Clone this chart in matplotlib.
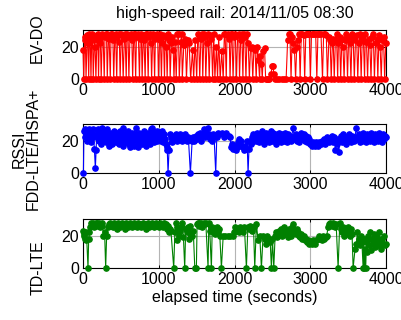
import numpy as np
import matplotlib.pyplot as plt

plt.rcParams['font.family'] = ['Liberation Sans', 'DejaVu Sans']

# EV-DO RSSI samples (time in s, value)
evdo_t = [0, 10, 20, 30, 40, 55, 65, 75, 85, 95, 105, 115, 125, 135, 150, 160, 170, 185, 195, 205,
          215, 230, 240, 255, 265, 280, 290, 300, 310, 320, 335, 345, 360, 370, 385, 395, 405, 420,
          430, 445, 455, 470, 480, 490, 505, 515, 530, 545, 555, 570, 580, 595, 605, 620, 630, 645,
          655, 670, 680, 695, 705, 720, 730, 745, 755, 770, 780, 795, 805, 820, 830, 845, 860, 870,
          885, 895, 905, 920, 930, 945, 955, 970, 985, 995, 1010, 1020, 1035, 1045, 1060, 1075, 1085,
          1100, 1110, 1125, 1140, 1150, 1165, 1180, 1190, 1200, 1215, 1230, 1245, 1260, 1270, 1290,
          1300, 1310, 1330, 1350, 1365, 1385, 1400, 1420, 1445, 1460, 1480, 1500, 1515, 1525, 1540,
          1555, 1570, 1580, 1595, 1610, 1620, 1635, 1650, 1665, 1680, 1695, 1710, 1725, 1740, 1760,
          1775, 1790, 1810, 1830, 1850, 1865, 1875, 1890, 1900, 1915, 1930, 1940, 1955, 1965, 1980,
          1995, 2010, 2025, 2040, 2055, 2065, 2080, 2095, 2110, 2120, 2135, 2150, 2165, 2180, 2195,
          2210, 2225, 2240, 2255, 2270, 2285, 2300, 2315, 2330, 2340, 2355, 2365, 2380, 2395, 2410,
          2425, 2440, 2460, 2480, 2495, 2505, 2520, 2535, 2560, 2590, 2620, 2650, 2680, 2700, 2715,
          2730, 2745, 2760, 2775, 2790, 2805, 2820, 2835, 2850, 2865, 2880, 2895, 2910, 2925, 2940,
          2955, 2970, 2985, 3000, 3015, 3030, 3050, 3070, 3085, 3100, 3120, 3140, 3160, 3175, 3190,
          3210, 3225, 3245, 3260, 3275, 3290, 3300, 3315, 3330, 3345, 3360, 3370, 3385, 3400, 3415,
          3430, 3445, 3460, 3475, 3490, 3505, 3520, 3535, 3550, 3565, 3580, 3595, 3610, 3625, 3640,
          3655, 3670, 3685, 3700, 3715, 3725, 3740, 3755, 3770, 3785, 3800, 3815, 3830, 3845, 3860,
          3875, 3890, 3905, 3920, 3935, 3950, 3965, 3980, 3995]
evdo_v = [18, 0, 24, 26, 0, 27, 22, 0, 28, 25, 0, 26, 28, 0, 24, 20, 0, 27, 28, 0,
          25, 22, 0, 28, 27, 0, 26, 28, 28, 0, 27, 25, 0, 28, 28, 24, 0, 27,
          28, 0, 26, 28, 23, 0, 28, 27, 0, 25, 28, 0, 28, 26, 0, 27, 28, 24,
          0, 28, 28, 0, 26, 28, 27, 0, 25, 28, 0, 27, 24, 0, 28, 28, 0, 26,
          28, 22, 0, 27, 28, 0, 25, 28, 26, 0, 24, 28, 0, 22, 27, 0, 26,
          20, 0, 28, 24, 0, 22, 26, 18, 0, 23, 0, 28, 28, 0, 23,
          28, 0, 21, 25, 0, 24, 22, 0, 18, 0, 24, 0, 28, 27, 0,
          25, 28, 0, 28, 26, 0, 22, 28, 0, 27, 25, 0, 28, 0, 20,
          0, 26, 0, 17, 0, 28, 28, 0, 27, 28, 25, 0, 28, 28, 0,
          26, 28, 0, 27, 28, 0, 24, 28, 0, 28, 26, 0, 28, 22, 0,
          19, 20, 0, 19, 18, 0, 20, 12, 0, 14, 9, 0, 17, 19, 0,
          0, 0, 0, 3, 8, 8, 3, 0, 0, 0, 0, 0, 0, 24, 28,
          28, 0, 26, 22, 18, 0, 20, 24, 28, 0, 28, 28, 27, 0, 28,
          28, 28, 28, 0, 28, 28, 28, 28, 0, 28, 28, 28, 0, 28, 28,
          27, 0, 26, 24, 0, 22, 25, 0, 24, 28, 0, 22, 26, 0, 25,
          20, 0, 24, 28, 0, 26, 22, 0, 28, 25, 0, 24, 27, 0, 22,
          28, 0, 26, 24, 0, 28, 23, 0, 25, 21, 0, 26, 28, 0, 22,
          25, 0, 27, 20, 0, 24, 26, 0, 22]

# FDD-LTE/HSPA+ RSSI samples
fdd_t = [5, 12, 20, 30, 40, 50, 60, 70, 80, 90, 100, 110, 120, 130, 140, 150, 163, 172, 182, 192,
         202, 212, 222, 232, 242, 252, 262, 272, 282, 292, 302, 312, 322, 332, 342, 352, 362, 372,
         382, 392, 402, 412, 422, 432, 442, 452, 462, 472, 482, 492, 502, 512, 522, 532, 542, 552,
         562, 572, 582, 592, 602, 612, 622, 632, 642, 652, 662, 672, 682, 692, 702, 712, 722, 732,
         742, 752, 762, 772, 782, 792, 802, 812, 822, 832, 842, 852, 862, 872, 882, 892, 902, 912,
         922, 932, 942, 952, 962, 972, 982, 992, 1002, 1012, 1022, 1032, 1042, 1052, 1062, 1072,
         1082, 1092, 1102, 1112, 1122, 1135, 1150, 1165, 1180, 1195, 1210, 1225, 1240, 1255, 1270,
         1285, 1300, 1315, 1330, 1345, 1360, 1375, 1390, 1417, 1440, 1455, 1470, 1485, 1500, 1515,
         1530, 1545, 1560, 1575, 1590, 1605, 1620, 1635, 1650, 1665, 1680, 1700, 1715, 1730, 1751,
         1765, 1780, 1795, 1830, 1860, 1890, 1920, 1940, 1955, 1970, 1985, 2000, 2015, 2030, 2045,
         2060, 2075, 2090, 2105, 2120, 2135, 2150, 2165, 2178, 2190, 2200, 2212, 2224, 2236, 2248,
         2260, 2272, 2284, 2296, 2308, 2320, 2332, 2344, 2356, 2368, 2380, 2392, 2404, 2416, 2428,
         2440, 2452, 2464, 2476, 2488, 2500, 2512, 2524, 2536, 2548, 2560, 2572, 2584, 2596, 2608,
         2620, 2632, 2644, 2656, 2668, 2680, 2692, 2704, 2716, 2728, 2740, 2752, 2772, 2790, 2805,
         2820, 2835, 2850, 2865, 2880, 2895, 2910, 2925, 2940, 2955, 2970, 2985, 3000, 3015, 3030,
         3045, 3060, 3075, 3090, 3105, 3120, 3135, 3150, 3165, 3180, 3195, 3210, 3225, 3240, 3255,
         3270, 3285, 3300, 3315, 3330, 3345, 3360, 3375, 3390, 3405, 3420, 3435, 3450, 3465, 3480,
         3495, 3510, 3525, 3540, 3555, 3570, 3585, 3608, 3625, 3640, 3655, 3670, 3685, 3700, 3715,
         3730, 3745, 3760, 3775, 3790, 3805, 3820, 3835, 3850, 3865, 3880, 3895, 3910, 3925, 3940,
         3955, 3970, 3985, 4000]
fdd_v = [0, 26, 22, 27, 24, 20, 26, 23, 27, 21, 25, 19, 24, 27, 22, 15, 3, 14, 25, 22,
         27, 20, 24, 18, 26, 28, 23, 21, 26, 24, 19, 22, 27, 23, 17, 21, 25, 22,
         18, 24, 20, 26, 23, 19, 25, 21, 24, 18, 22, 26, 20, 23, 17, 28, 22, 25,
         19, 23, 21, 26, 18, 24, 16, 22, 25, 20, 23, 17, 24, 21, 28, 19, 22, 16,
         25, 20, 23, 18, 24, 21, 26, 19, 23, 17, 22, 25, 20, 24, 18, 27, 22, 28,
         21, 25, 19, 24, 22, 26, 20, 23, 25, 21, 24, 20, 26, 22, 19, 24,
         21, 18, 16, 14, 0, 14, 24, 22, 19, 23, 21, 24, 20, 23, 22,
         24, 20, 23, 21, 24, 22, 20, 22, 0, 20, 22, 20, 23, 21, 24,
         22, 25, 20, 23, 27, 22, 25, 24, 28, 24, 21, 20, 24, 22, 0,
         22, 25, 24, 25, 22, 25, 23, 22, 16, 18, 15, 17, 14, 16, 19,
         21, 17, 20, 16, 14, 17, 15, 20, 0, 15, 20, 18, 22, 19, 24,
         21, 23, 20, 25, 22, 19, 24, 21, 26, 20, 23, 18, 22, 25, 21,
         24, 19, 23, 26, 20, 22, 25, 21, 24, 18, 23, 20, 25, 22, 19,
         24, 21, 23, 20, 25, 22, 19, 24, 21, 23, 20, 22, 28, 21, 24,
         20, 23, 19, 22, 25, 21, 24, 20, 23, 19, 22, 21, 18, 17, 19,
         18, 17, 19, 18, 17, 19, 18, 20, 19, 21, 18, 20, 22, 19, 21,
         20, 23, 19, 22, 14, 18, 21, 13, 20, 23, 19, 24, 21, 18, 22,
         20, 24, 21, 19, 23, 20, 22, 28, 21, 24, 19, 23, 20, 25, 22,
         19, 24, 21, 23, 20, 25, 22, 19, 24, 21, 23, 20, 25, 22, 19,
         24, 21, 23, 22]

# TD-LTE RSSI samples
tdlte_t = [0, 8, 15, 25, 35, 45, 66, 75, 85, 95, 105, 115, 125, 135, 145, 155, 165, 175, 185, 195,
           205, 215, 225, 235, 245, 255, 270, 285, 299, 312, 325, 338, 351, 364, 377, 390, 403, 416,
           429, 442, 455, 468, 481, 494, 507, 520, 533, 546, 559, 572, 585, 598, 611, 624, 637, 650,
           663, 676, 689, 702, 715, 728, 741, 754, 767, 780, 793, 806, 819, 832, 845, 858, 871, 884,
           897, 910, 923, 936, 949, 962, 975, 988, 1001, 1014, 1027, 1040, 1053, 1066, 1079, 1092,
           1105, 1118, 1130, 1145, 1160, 1197, 1212, 1225, 1235, 1245, 1258, 1272, 1285, 1300, 1312,
           1325, 1342, 1355, 1368, 1380, 1395, 1410, 1425, 1440, 1455, 1475, 1496, 1505, 1515, 1525,
           1535, 1548, 1560, 1575, 1590, 1605, 1620, 1650, 1660, 1672, 1694, 1705, 1715, 1728, 1740,
           1752, 1765, 1778, 1790, 1805, 1826, 1850, 1880, 1910, 1940, 1980, 1995, 2010, 2025, 2040,
           2055, 2070, 2085, 2100, 2115, 2130, 2156, 2175, 2190, 2205, 2220, 2235, 2250, 2266, 2288,
           2310, 2332, 2354, 2376, 2395, 2410, 2430, 2450, 2470, 2486, 2500, 2517, 2535, 2550, 2565,
           2580, 2595, 2610, 2625, 2640, 2655, 2670, 2685, 2700, 2715, 2730, 2745, 2760, 2772, 2790,
           2805, 2820, 2835, 2850, 2865, 2880, 2895, 2910, 2925, 2940, 2955, 2970, 2985, 3000, 3015,
           3030, 3045, 3060, 3080, 3095, 3110, 3125, 3140, 3155, 3170, 3185, 3200, 3215, 3234, 3250,
           3265, 3280, 3300, 3320, 3340, 3366, 3388, 3400, 3415, 3430, 3445, 3460, 3475, 3490, 3505,
           3520, 3535, 3550, 3564, 3590, 3608, 3620, 3635, 3650, 3665, 3680, 3696, 3705, 3712, 3720,
           3730, 3740, 3752, 3765, 3778, 3790, 3803, 3816, 3829, 3842, 3855, 3868, 3881, 3894, 3907,
           3920, 3933, 3946, 3959, 3972, 3985, 3998]
tdlte_v = [23, 21, 20, 18, 17, 22, 0, 18, 22, 25, 28, 27, 26, 28, 25, 27, 28, 26, 28, 27,
           26, 28, 25, 27, 28, 26, 20, 22, 0, 20, 25, 27, 28, 26, 27, 25, 28, 26,
           27, 24, 27, 28, 26, 25, 27, 28, 26, 27, 24, 28, 27, 25, 26, 28, 27, 25,
           26, 28, 26, 27, 25, 28, 26, 27, 25, 26, 28, 27, 26, 24, 27, 28, 25, 26,
           27, 28, 26, 25, 27, 28, 26, 27, 25, 28, 26, 27, 25, 28, 26, 27,
           24, 26, 22, 24, 23, 0, 22, 28, 25, 17, 23, 20, 23, 28, 25,
           19, 0, 24, 22, 25, 18, 26, 21, 20, 23, 0, 0, 27, 28, 26,
           28, 27, 28, 25, 28, 27, 28, 0, 28, 23, 0, 25, 22, 24, 21,
           23, 25, 22, 24, 20, 0, 20, 20, 20, 20, 20, 22, 25, 23, 24,
           22, 25, 23, 24, 22, 25, 0, 25, 24, 26, 25, 23, 25, 0, 27,
           17, 20, 0, 20, 18, 15, 20, 18, 16, 0, 18, 0, 20, 22, 19,
           23, 21, 24, 20, 22, 25, 21, 23, 19, 24, 22, 20, 25, 27, 23,
           21, 24, 22, 20, 19, 21, 18, 20, 17, 18, 16, 17, 15, 16, 15,
           17, 16, 15, 17, 18, 20, 18, 19, 17, 20, 18, 19, 20, 25, 27,
           28, 26, 28, 25, 27, 0, 28, 24, 22, 25, 20, 23, 21, 25, 22,
           20, 24, 21, 0, 12, 15, 22, 18, 14, 20, 16, 0, 18, 0, 12,
           0, 16, 10, 20, 14, 22, 11, 18, 15, 21, 13, 17, 19, 14, 22,
           16, 12, 18, 15, 20, 14, 15]

series = [
    (evdo_t, evdo_v, 'red', 'EV-DO'),
    (fdd_t, fdd_v, 'blue', 'RSSI\nFDD-LTE/HSPA+'),
    (tdlte_t, tdlte_v, 'green', 'TD-LTE'),
]

fig = plt.figure(figsize=(4.01, 3.2), dpi=100)
bottoms = [0.753, 0.459, 0.1625]
label_x = [-0.150, -0.188, -0.147]
label_y = [0.84, 0.5, 0.0]

axes = []
for i, (t, v, col, name) in enumerate(series):
    ax = fig.add_axes([0.207, bottoms[i], 0.756, 0.152])
    ax.plot(t, v, '-o', color=col, lw=0.8, ms=3.8, clip_on=False, zorder=3)
    ax.set_xlim(0, 4000)
    ax.set_ylim(0, 30)
    ax.set_xticks([0, 1000, 2000, 3000, 4000])
    ax.set_yticks([0, 20])
    ax.grid(True, color='#b4b4b4', lw=0.8)
    ax.set_axisbelow(True)
    ax.tick_params(direction='in', length=2.5, width=0.7, top=True, right=True,
                   labelsize=11.5, pad=3)
    for s in ax.spines.values():
        s.set_linewidth(0.8)
    ax.set_ylabel(name, fontsize=11.5, va='center', linespacing=0.95)
    ax.yaxis.set_label_coords(label_x[i], label_y[i])
    axes.append(ax)

axes[0].set_title('high-speed rail: 2014/11/05 08:30', fontsize=11.5, pad=9)
axes[2].set_xlabel('elapsed time (seconds)', fontsize=11.5, labelpad=2)

fig.savefig('out.png', dpi=100)
